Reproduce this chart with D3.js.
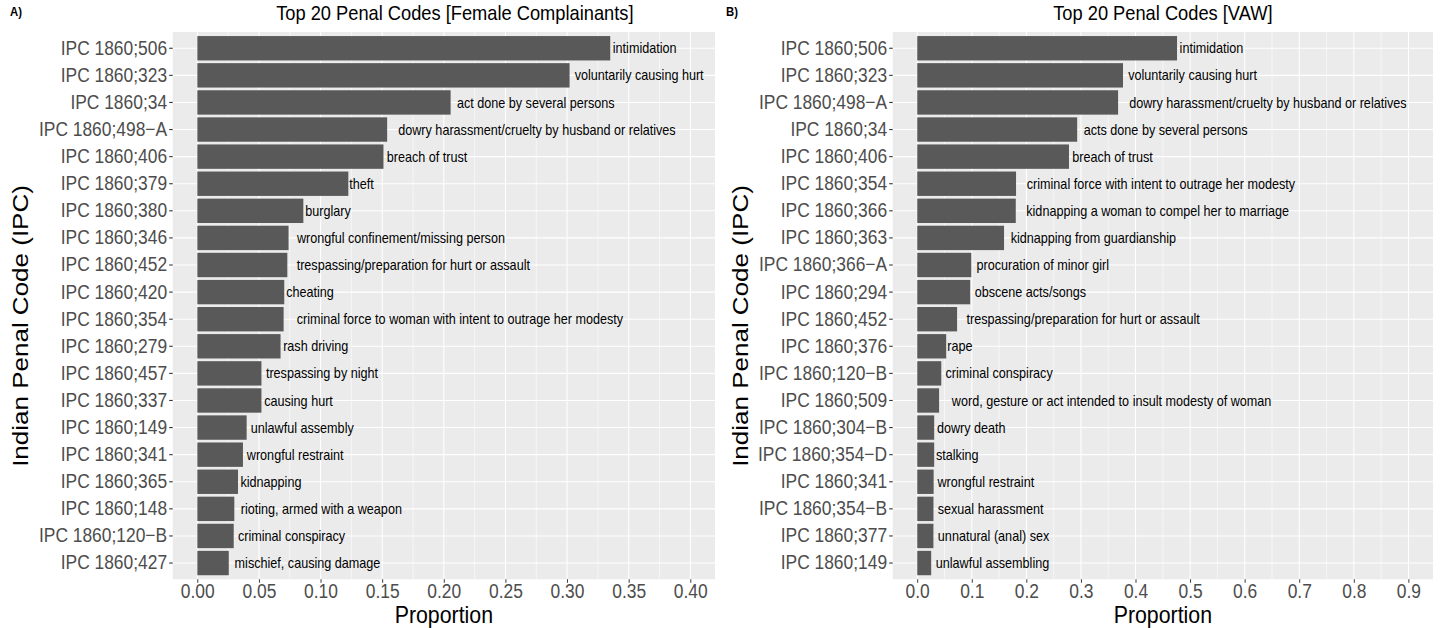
<!DOCTYPE html>
<html>
<head>
<meta charset="utf-8">
<script src="https://cdn.jsdelivr.net/npm/d3@7"></script>
<style>
  html, body { margin: 0; padding: 0; background: #fff; overflow: hidden; }
  svg { display: block; }
  text { font-family: "Liberation Sans", Arial, Helvetica, sans-serif; }
</style>
</head>
<body>
<svg id="chart"></svg>
<script>
// ---- Panel A: female complainants ----
const codesA = ["IPC 1860;506", "IPC 1860;323", "IPC 1860;34", "IPC 1860;498−A", "IPC 1860;406",
  "IPC 1860;379", "IPC 1860;380", "IPC 1860;346", "IPC 1860;452", "IPC 1860;420",
  "IPC 1860;354", "IPC 1860;279", "IPC 1860;457", "IPC 1860;337", "IPC 1860;149",
  "IPC 1860;341", "IPC 1860;365", "IPC 1860;148", "IPC 1860;120−B", "IPC 1860;427"];
const valuesA = [0.335, 0.302, 0.2055, 0.154, 0.151, 0.1225, 0.086, 0.074, 0.073, 0.0705,
  0.0700, 0.0675, 0.052, 0.052, 0.040, 0.037, 0.033, 0.030, 0.0295, 0.0255];
const labelsA = ["intimidation", "voluntarily causing hurt", "act done by several persons",
  "dowry harassment/cruelty by husband or relatives", "breach of trust", "theft", "burglary",
  "wrongful confinement/missing person", "trespassing/preparation for hurt or assault", "cheating",
  "criminal force to woman with intent to outrage her modesty", "rash driving", "trespassing by night",
  "causing hurt", "unlawful assembly", "wrongful restraint", "kidnapping", "rioting, armed with a weapon",
  "criminal conspiracy", "mischief, causing damage"];
const ticksA = [0, 0.05, 0.10, 0.15, 0.20, 0.25, 0.30, 0.35, 0.40];
const tickLabelsA = ["0.00", "0.05", "0.10", "0.15", "0.20", "0.25", "0.30", "0.35", "0.40"];

// ---- Panel B: violence against women ----
const codesB = ["IPC 1860;506", "IPC 1860;323", "IPC 1860;498−A", "IPC 1860;34", "IPC 1860;406",
  "IPC 1860;354", "IPC 1860;366", "IPC 1860;363", "IPC 1860;366−A", "IPC 1860;294",
  "IPC 1860;452", "IPC 1860;376", "IPC 1860;120−B", "IPC 1860;509", "IPC 1860;304−B",
  "IPC 1860;354−D", "IPC 1860;341", "IPC 1860;354−B", "IPC 1860;377", "IPC 1860;149"];
const valuesB = [0.476, 0.377, 0.368, 0.293, 0.278, 0.181, 0.1805, 0.159, 0.099, 0.097,
  0.073, 0.053, 0.044, 0.040, 0.031, 0.031, 0.030, 0.0297, 0.0296, 0.0255];
const labelsB = ["intimidation", "voluntarily causing hurt", "dowry harassment/cruelty by husband or relatives",
  "acts done by several persons", "breach of trust", "criminal force with intent to outrage her modesty",
  "kidnapping a woman to compel her to marriage", "kidnapping from guardianship", "procuration of minor girl",
  "obscene acts/songs", "trespassing/preparation for hurt or assault", "rape", "criminal conspiracy",
  "word, gesture or act intended to insult modesty of woman", "dowry death", "stalking", "wrongful restraint",
  "sexual harassment", "unnatural (anal) sex", "unlawful assembling"];
const ticksB = [0, 0.1, 0.2, 0.3, 0.4, 0.5, 0.6, 0.7, 0.8, 0.9];
const tickLabelsB = ["0.0", "0.1", "0.2", "0.3", "0.4", "0.5", "0.6", "0.7", "0.8", "0.9"];

// The figure is laid out in a wider coordinate space and squeezed horizontally.
const SQUEEZE = 0.87;
const W = 1442, H = 628;
const VW = W / SQUEEZE;

const svg = d3.select("#chart")
  .attr("width", W).attr("height", H)
  .attr("viewBox", `0 0 ${VW} ${H}`)
  .attr("preserveAspectRatio", "none");

const panelTop = 32, panelBottom = 579.3;

const panels = [
  { tag: "A)", title: "Top 20 Penal Codes [Female Complainants]", codes: codesA, values: valuesA,
    labels: labelsA, ticks: ticksA, tickLabels: tickLabelsA, domain: [-0.02, 0.42],
    left: 172.7 / SQUEEZE, right: 715 / SQUEEZE, tagX: 10 / SQUEEZE, titleShift: 11 / SQUEEZE },
  { tag: "B)", title: "Top 20 Penal Codes [VAW]", codes: codesB, values: valuesB,
    labels: labelsB, ticks: ticksB, tickLabels: tickLabelsB, domain: [-0.045, 0.945],
    left: 892.7 / SQUEEZE, right: 1433 / SQUEEZE, tagX: 726 / SQUEEZE, titleShift: 0 }
];

panels.forEach(p => {
  const g = svg.append("g");
  const x = d3.scaleLinear().domain(p.domain).range([p.left, p.right]);
  const y = d3.scaleBand().domain(p.codes).range([panelTop, panelBottom])
    .paddingInner(0.1).paddingOuter(0.15);

  // panel background
  g.append("rect")
    .attr("x", p.left).attr("y", panelTop)
    .attr("width", p.right - p.left).attr("height", panelBottom - panelTop)
    .attr("fill", "#EBEBEB");

  // minor vertical grid lines (midway between major breaks)
  const minor = d3.pairs(p.ticks).map(([a, b]) => (a + b) / 2);
  const last = p.ticks[p.ticks.length - 1], step = p.ticks[1] - p.ticks[0];
  if (last + step / 2 < p.domain[1]) minor.push(last + step / 2);
  g.selectAll("line.minor").data(minor).join("line")
    .attr("x1", d => x(d)).attr("x2", d => x(d))
    .attr("y1", panelTop).attr("y2", panelBottom)
    .attr("stroke", "#fff").attr("stroke-width", 0.6);

  // major vertical grid lines
  g.selectAll("line.majx").data(p.ticks).join("line")
    .attr("x1", d => x(d)).attr("x2", d => x(d))
    .attr("y1", panelTop).attr("y2", panelBottom)
    .attr("stroke", "#fff").attr("stroke-width", 1.2);

  // horizontal grid lines at each category
  g.selectAll("line.majy").data(p.codes).join("line")
    .attr("x1", p.left).attr("x2", p.right)
    .attr("y1", d => y(d) + y.bandwidth() / 2).attr("y2", d => y(d) + y.bandwidth() / 2)
    .attr("stroke", "#fff").attr("stroke-width", 1.1);

  // bars
  g.selectAll("rect.bar").data(p.codes).join("rect")
    .attr("x", x(0))
    .attr("y", d => y(d))
    .attr("width", (d, i) => x(p.values[i]) - x(0))
    .attr("height", y.bandwidth())
    .attr("fill", "#595959");

  // bar labels, nudged right by a fraction of their own width
  g.selectAll("text.lab").data(p.codes).join("text")
    .attr("y", d => y(d) + y.bandwidth() / 2)
    .attr("dy", "0.35em")
    .attr("font-size", 14.5)
    .attr("fill", "#000")
    .text((d, i) => p.labels[i])
    .each(function (d, i) {
      const w = this.getComputedTextLength();
      d3.select(this).attr("x", x(p.values[i]) + 0.04 * w);
    });

  // y axis
  const yAxis = g.append("g")
    .attr("transform", `translate(${p.left},0)`)
    .call(d3.axisLeft(y).tickSize(4).tickPadding(2.5));
  yAxis.select(".domain").remove();
  yAxis.selectAll(".tick line").attr("stroke", "#333").attr("stroke-width", 1.1);
  yAxis.selectAll(".tick text").attr("font-size", 20).attr("fill", "#4D4D4D")
    .attr("font-family", "'Liberation Sans', Arial, sans-serif");

  // x axis
  const xAxis = g.append("g")
    .attr("transform", `translate(0,${panelBottom})`)
    .call(d3.axisBottom(x).tickValues(p.ticks)
      .tickFormat((d, i) => p.tickLabels[i]).tickSize(3.5).tickPadding(1.5));
  xAxis.select(".domain").remove();
  xAxis.selectAll(".tick line").attr("stroke", "#333").attr("stroke-width", 1.1);
  xAxis.selectAll(".tick text").attr("font-size", 20).attr("fill", "#4D4D4D")
    .attr("font-family", "'Liberation Sans', Arial, sans-serif");

  // axis titles
  const cx = (p.left + p.right) / 2;
  g.append("text")
    .attr("x", cx).attr("y", 623)
    .attr("text-anchor", "middle")
    .attr("font-size", 24.5).attr("fill", "#000")
    .text("Proportion");

  g.append("text")
    .attr("transform", `translate(${p.left - 145 / SQUEEZE},${326}) rotate(-90)`)
    .attr("text-anchor", "middle")
    .attr("font-size", 26).attr("fill", "#000")
    .text("Indian Penal Code (IPC)");

  // panel title and tag
  g.append("text")
    .attr("x", cx + p.titleShift).attr("y", 20)
    .attr("text-anchor", "middle")
    .attr("font-size", 21).attr("fill", "#000")
    .text(p.title);

  g.append("text")
    .attr("x", p.tagX).attr("y", 16)
    .attr("font-size", 13).attr("font-weight", "bold").attr("fill", "#000")
    .text(p.tag);
});
</script>
</body>
</html>
